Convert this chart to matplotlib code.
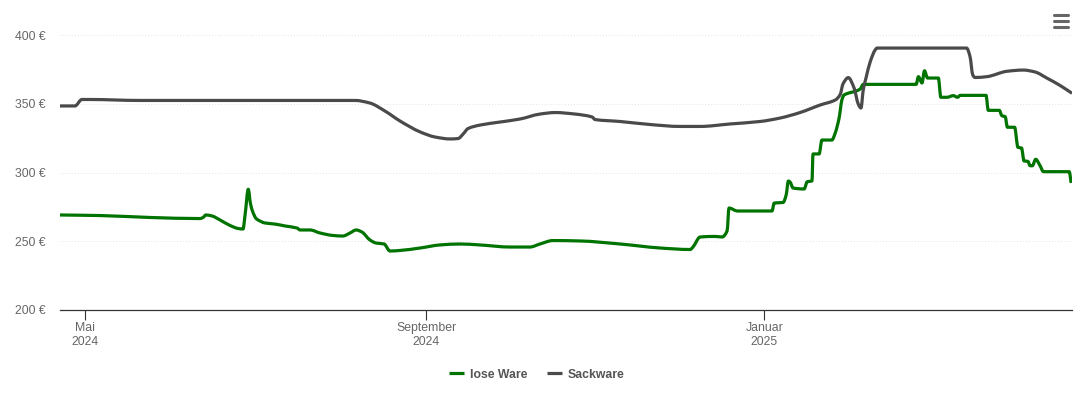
import matplotlib
matplotlib.use("Agg")
import matplotlib.dates as mdates
import matplotlib.pyplot as plt
from matplotlib.lines import Line2D
from matplotlib.patches import PathPatch
from matplotlib.path import Path
import numpy as np
import pandas as pd

### DATA ###
# days counted from START
START = "2024-05-01"

lose_days = [-9, 5.4, 23.4, 41.5, 42.6, 43.6, 45.8, 48.7, 52.3, 55.2, 57, 57.8, 58.9, 59.7, 60.6, 61.7, 62.4,
             64.9, 68.5, 72.2, 76.5, 77.6, 81.2, 84.8, 89.5, 93, 95.6, 97.8, 99.9, 102.8, 105, 107.9, 110, 113.6,
             120.9, 128, 135.3, 142.5, 153.3, 160.5, 164.1, 168.8, 178.6, 193, 207.4, 218.3, 219.3, 221.9, 227.3,
             229.8, 231.6, 232.3, 233.8, 235.2, 247.8, 248.6, 251.8, 252.9, 253.7, 254.3, 255.4, 259.4, 260.5,
             262.2, 262.6, 264.8, 265.8, 269.4, 270.6, 272, 273, 273.8, 278.4, 279.6, 280.7, 299.8, 300.6, 301.9,
             302.8, 303.9, 307.8, 308.7, 310.9, 313.2, 314.7, 315.7, 325, 325.8, 329.8, 330.7, 331.9, 332.7,
             335.3, 336.5, 337.8, 338.7, 340.1, 340.9, 341.7, 342.9, 344.5, 345.7, 355, 355.7]
lose_prices = [269.1, 268.7, 267.3, 266.5, 267.3, 269.1, 268.4, 265.5, 261.5, 259.3, 258.9, 270, 287.8, 277.3,
               271, 266.6, 265.5, 263.3, 262.5, 261.1, 259.6, 258.2, 258.2, 256, 254.2, 253.8, 256, 258.2, 256.7,
               250.9, 248.7, 248, 242.9, 243.3, 245.1, 247.3, 248, 247.3, 245.8, 245.8, 248, 250.5, 250.2, 248,
               245.1, 244, 245.8, 253.1, 253.5, 253.1, 257.5, 274.2, 273.1, 272, 272, 277.8, 278.2, 283.6, 293.8,
               293.1, 288.7, 288, 293.3, 293.8, 313.5, 313.5, 323.6, 323.6, 328.7, 339.6, 352.7, 356.4, 359.5,
               360.7, 364.1, 364.1, 369.7, 365.1, 374, 368.7, 368.7, 354.7, 354.7, 355.9, 354.7, 356.1, 356.1,
               345.2, 345.2, 341.3, 340.6, 332.9, 332.9, 318.3, 317.8, 308.4, 308.1, 304.9, 304.9, 309.6, 304.9,
               300.6, 300.6, 292.4]

sack_days = [-9, -3.6, -1.1, 1.8, 19.8, 97.4, 102.8, 108.2, 113.6, 120.9, 126.3, 131.7, 134.6, 136.4, 138.2, 142.5,
             149.7, 156.9, 164.1, 169.6, 176.8, 182.9, 184, 193, 203.8, 214.6, 221.9, 232.7, 243.5, 250.7, 257.9,
             265.2, 270.6, 272.4, 273.4, 275.3, 277.4, 278.9, 279.9, 280.7, 281.7, 283.2, 285, 285.7, 318,
             319.2, 320.2, 321, 325.3, 332.5, 338.4, 342.7, 346.9, 351.7, 356]
sack_prices = [348.4, 348.4, 353.1, 353.1, 352.4, 352.4, 350.5, 344.7, 337.5, 329.5, 325.8, 324.4, 324.7, 328, 332,
               334.5, 336.7, 338.9, 342.5, 343.6, 342.5, 340.4, 338.5, 337.1, 334.9, 333.5, 333.5, 335.3, 337.1,
               339.6, 343.6, 349.1, 352.7, 356.7, 364.4, 369, 361.5, 349.8, 346.9, 360, 368.7, 380.4, 389.1,
               390.5, 390.5, 384.5, 371, 369.1, 369.7, 373.6, 374.5, 373.1, 368.7, 363.3, 357.6]

y_ticks = [200, 250, 300, 350, 400]
y_labels = ["200 €", "250 €", "300 €", "350 €", "400 €"]
x_ticks = ["2024-05-01", "2024-09-01", "2025-01-01"]
x_labels = ["Mai\n2024", "September\n2024", "Januar\n2025"]

### CONSTANTS ###
W, H = 1082, 412
GREEN = "#007300"
GRAY = "#4a4a4a"
LABEL = "#666666"
FONT = 8.85


def to_num(days):
    return mdates.date2num(pd.Timestamp(START) + pd.to_timedelta(days, unit="D"))


def spline_path(x, y):
    # bezier segments through the read values, flat at local extrema so steps don't overshoot
    x, y = np.asarray(x, dtype=float), np.asarray(y, dtype=float)
    h = np.diff(x)
    s = np.diff(y) / h
    m = np.zeros(len(x))
    m[0], m[-1] = s[0], s[-1]
    for i in range(1, len(x) - 1):
        if s[i - 1] * s[i] > 0:
            m[i] = 2 * s[i - 1] * s[i] / (s[i - 1] + s[i])
    verts = [(x[0], y[0])]
    codes = [Path.MOVETO]
    for i in range(len(h)):
        verts.append((x[i] + h[i] / 3, y[i] + m[i] * h[i] / 3))
        verts.append((x[i + 1] - h[i] / 3, y[i + 1] - m[i + 1] * h[i] / 3))
        verts.append((x[i + 1], y[i + 1]))
        codes.extend([Path.CURVE4, Path.CURVE4, Path.CURVE4])
    return Path(verts, codes)


def draw_series(ax, days, prices, color, zorder):
    patch = PathPatch(spline_path(to_num(days), prices), fill=False, edgecolor=color, lw=2.3,
                      joinstyle="round", capstyle="butt", zorder=zorder)
    ax.add_patch(patch)


def main():
    plt.rcParams["font.family"] = ["Liberation Sans", "DejaVu Sans"]
    plt.rcParams["font.size"] = FONT

    fig = plt.figure(figsize=(W / 100, H / 100), dpi=100)
    ax = fig.add_axes([60 / W, 1 - 310 / H, 1012 / W, 275 / H])

    draw_series(ax, lose_days, lose_prices, GREEN, 3)
    draw_series(ax, sack_days, sack_prices, GRAY, 4)

    ax.xaxis_date()
    ax.set_xlim(to_num(-9), to_num(356))
    ax.set_ylim(200, 400)
    ax.set_yticks(y_ticks)
    ax.set_yticklabels(y_labels, color=LABEL)
    ax.set_xticks(mdates.date2num(pd.to_datetime(x_ticks)))
    ax.set_xticklabels(x_labels, color=LABEL, linespacing=1.2)

    ax.grid(axis="y", color="#e3e3e3", lw=0.7, ls=(0, (1, 2)), zorder=0)
    ax.tick_params(axis="y", length=0, pad=10)
    ax.tick_params(axis="x", length=7, width=0.8, color="#333333", pad=1.5)
    for side in ["top", "left", "right"]:
        ax.spines[side].set_visible(False)
    ax.spines["bottom"].set_color("#333333")
    ax.spines["bottom"].set_linewidth(0.9)

    handles = [Line2D([], [], color=GREEN, lw=2.3, solid_capstyle="butt"),
               Line2D([], [], color=GRAY, lw=2.3, solid_capstyle="butt")]
    leg = fig.legend(handles, ["lose Ware", "Sackware"], loc="center", bbox_to_anchor=(536.5 / W, 1 - 374.5 / H),
                     ncol=2, frameon=False, handlelength=1.25, handletextpad=0.45, columnspacing=1.6,
                     prop={"weight": "bold", "size": FONT})
    for text in leg.get_texts():
        text.set_color("#555555")

    # menu icon top right
    for y in [15, 21, 27]:
        fig.add_artist(Line2D([1054 / W, 1068 / W], [1 - y / H, 1 - y / H], color=LABEL, lw=2.2,
                              solid_capstyle="round"))

    fig.savefig("out.png", dpi=100)


if __name__ == '__main__':
    main()
